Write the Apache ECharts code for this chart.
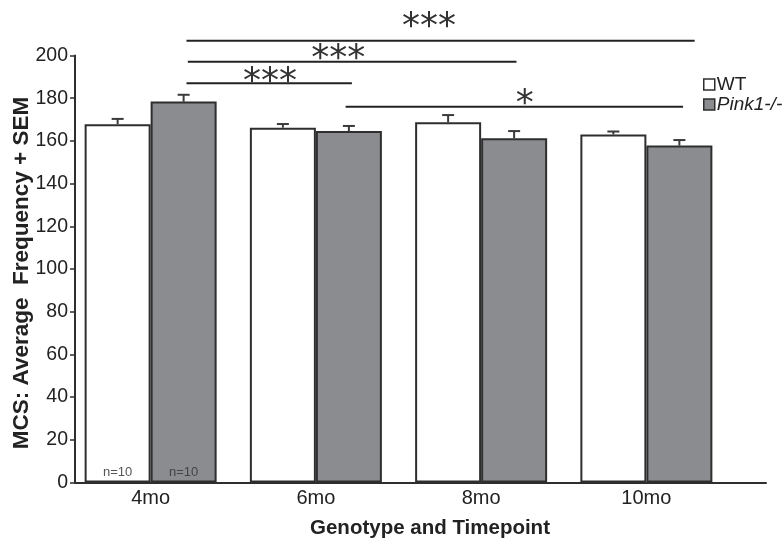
<!DOCTYPE html>
<html><head><meta charset="utf-8">
<script src="https://cdn.jsdelivr.net/npm/echarts@6/dist/echarts.min.js"></script>
<style>html,body{margin:0;padding:0;background:#fff}#c{width:783px;height:539px}</style>
</head><body><div id="c"></div>
<script>
// ---- data ----
const categories = ['4mo', '6mo', '8mo', '10mo'];
const seriesNames = ['WT', 'Pink1-/-'];
const wtMean = [167.8, 166.2, 168.7, 163.0];
const wtSem = [2.5, 1.7, 3.4, 1.4];
const pinkMean = [178.4, 164.6, 161.2, 157.8];
const pinkSem = [3.2, 2.4, 3.4, 2.6];
const nLabels = ['n=10', 'n=10'];
const yMin = 0, yMax = 200, yStep = 20;
// significance brackets on a 0..4 scale spanning the four category bands:
// [xStart, xEnd, yLine, labelX, labelY]
const sigBrackets = [
  [0.717, 3.792, 206.9, 2.184, 216.6],
  [0.725, 2.714, 197.1, 1.636, 201.8],
  [0.717, 1.718, 187.0, 1.222, 190.9],
  [1.680, 3.722, 176.0, 2.764, 180.7]
];
const sigLabels = ['***', '***', '***', '*'];

// ---- style ----
const BAR_W = 66, CAP_W = 12, STAR_DY = 8;
const INK = '#2e2e2e';
const FONT = 'Liberation Sans';

function errRender(sign) {
  return function (params, api) {
    const i = api.value(0), m = api.value(1), s = api.value(2);
    const b = api.coord([i, m]);
    const t = api.coord([i, m + s]);
    const x = b[0] + sign * BAR_W / 2;
    const st = { stroke: '#3a3a3a', lineWidth: 2 };
    return { type: 'group', children: [
      { type: 'line', shape: { x1: x, y1: b[1], x2: x, y2: t[1] }, style: st },
      { type: 'line', shape: { x1: x - CAP_W / 2, y1: t[1], x2: x + CAP_W / 2, y2: t[1] }, style: st }
    ]};
  };
}

const chart = echarts.init(document.getElementById('c'), null, { renderer: 'canvas' });
chart.setOption({
  animation: false,
  backgroundColor: '#fff',
  grid: [
    { left: 68, right: 54, top: 55.5, bottom: 56.5, outerBoundsMode: 'none', containLabel: false },
    { left: 75, right: 17, top: 55.5, bottom: 56.5, outerBoundsMode: 'none', containLabel: false }
  ],
  legend: {
    data: seriesNames,
    orient: 'vertical',
    left: 698, top: 70,
    itemWidth: 11, itemHeight: 11, itemGap: 1,
    icon: 'rect',
    itemStyle: { borderWidth: 1.5 },
    textStyle: { fontFamily: FONT, fontSize: 19, color: '#222', padding: [0, 0, 0, -3],
      rich: { it: { fontFamily: FONT, fontSize: 19, fontStyle: 'italic', color: '#222' } } },
    formatter: function (n) { return n === 'Pink1-/-' ? '{it|' + n + '}' : n; }
  },
  xAxis: [
    { type: 'category', gridIndex: 0, data: categories, boundaryGap: true,
      axisLine: { show: false }, axisTick: { show: false },
      axisLabel: { fontFamily: FONT, fontSize: 20, color: '#222', margin: 6 } },
    { type: 'value', gridIndex: 0, min: 0, max: 4, show: false },
    { type: 'value', gridIndex: 1, min: 0, max: 1,
      axisLine: { show: true, lineStyle: { color: INK, width: 2 } },
      axisTick: { show: false }, axisLabel: { show: false }, splitLine: { show: false },
      name: 'Genotype and Timepoint', nameLocation: 'middle', nameGap: 35, nameMoveOverlap: false,
      nameTextStyle: { fontFamily: FONT, fontSize: 20.5, fontWeight: 'bold', color: '#222', padding: [0, 0, 0, 19] } }
  ],
  yAxis: [
    { type: 'value', gridIndex: 0, min: yMin, max: yMax, interval: yStep, show: false },
    { type: 'value', gridIndex: 1, min: yMin, max: yMax, interval: yStep,
      axisLine: { show: true, lineStyle: { color: INK, width: 2 } },
      axisTick: { show: true, length: 5, lineStyle: { color: INK, width: 1.5 } },
      axisLabel: { fontFamily: FONT, fontSize: 19.5, color: '#222', margin: 7 },
      splitLine: { show: false },
      name: 'MCS: Average  Frequency + SEM', nameLocation: 'middle', nameGap: 42, nameRotate: 90,
      nameMoveOverlap: false,
      nameTextStyle: { fontFamily: FONT, fontSize: 22.5, fontWeight: 'bold', color: '#222', padding: [0, 8, 0, 0] } }
  ],
  series: [
    { name: seriesNames[0], type: 'bar', xAxisIndex: 0, yAxisIndex: 0,
      barWidth: BAR_W, barGap: '0%',
      itemStyle: { color: '#ffffff', borderColor: INK, borderWidth: 2 },
      data: wtMean.map((v, i) => i === 0 ? { value: v, label: { show: true, position: 'insideBottom', distance: 4,
        formatter: nLabels[0], fontFamily: FONT, fontSize: 13, color: '#555' } } : v) },
    { name: seriesNames[1], type: 'bar', xAxisIndex: 0, yAxisIndex: 0,
      barWidth: BAR_W, barGap: '0%',
      itemStyle: { color: '#8b8c90', borderColor: INK, borderWidth: 2 },
      data: pinkMean.map((v, i) => i === 0 ? { value: v, label: { show: true, position: 'insideBottom', distance: 4,
        formatter: nLabels[1], fontFamily: FONT, fontSize: 13, color: '#444' } } : v) },
    { type: 'custom', xAxisIndex: 0, yAxisIndex: 0, renderItem: errRender(-1), z: 1,
      encode: { x: 0, y: 1 }, data: wtMean.map((v, i) => [i, v, wtSem[i]]) },
    { type: 'custom', xAxisIndex: 0, yAxisIndex: 0, renderItem: errRender(1), z: 1,
      encode: { x: 0, y: 1 }, data: pinkMean.map((v, i) => [i, v, pinkSem[i]]) },
    { type: 'custom', xAxisIndex: 1, yAxisIndex: 0, clip: false, z: 3,
      encode: { x: [0, 1, 3], y: [2, 4] },
      renderItem: function (params, api) {
        const p1 = api.coord([api.value(0), api.value(2)]);
        const p2 = api.coord([api.value(1), api.value(2)]);
        const lp = api.coord([api.value(3), api.value(4)]);
        return { type: 'group', children: [
          { type: 'line', shape: { x1: p1[0], y1: p1[1], x2: p2[0], y2: p2[1] }, style: { stroke: '#222', lineWidth: 2 } },
          { type: 'text', x: lp[0], y: lp[1] + STAR_DY, style: { text: sigLabels[params.dataIndex], fontFamily: 'DejaVu Sans',
            fontSize: 36, fill: '#333', align: 'center', verticalAlign: 'middle' } }
        ]};
      },
      data: sigBrackets }
  ]
});
</script>
</body></html>
